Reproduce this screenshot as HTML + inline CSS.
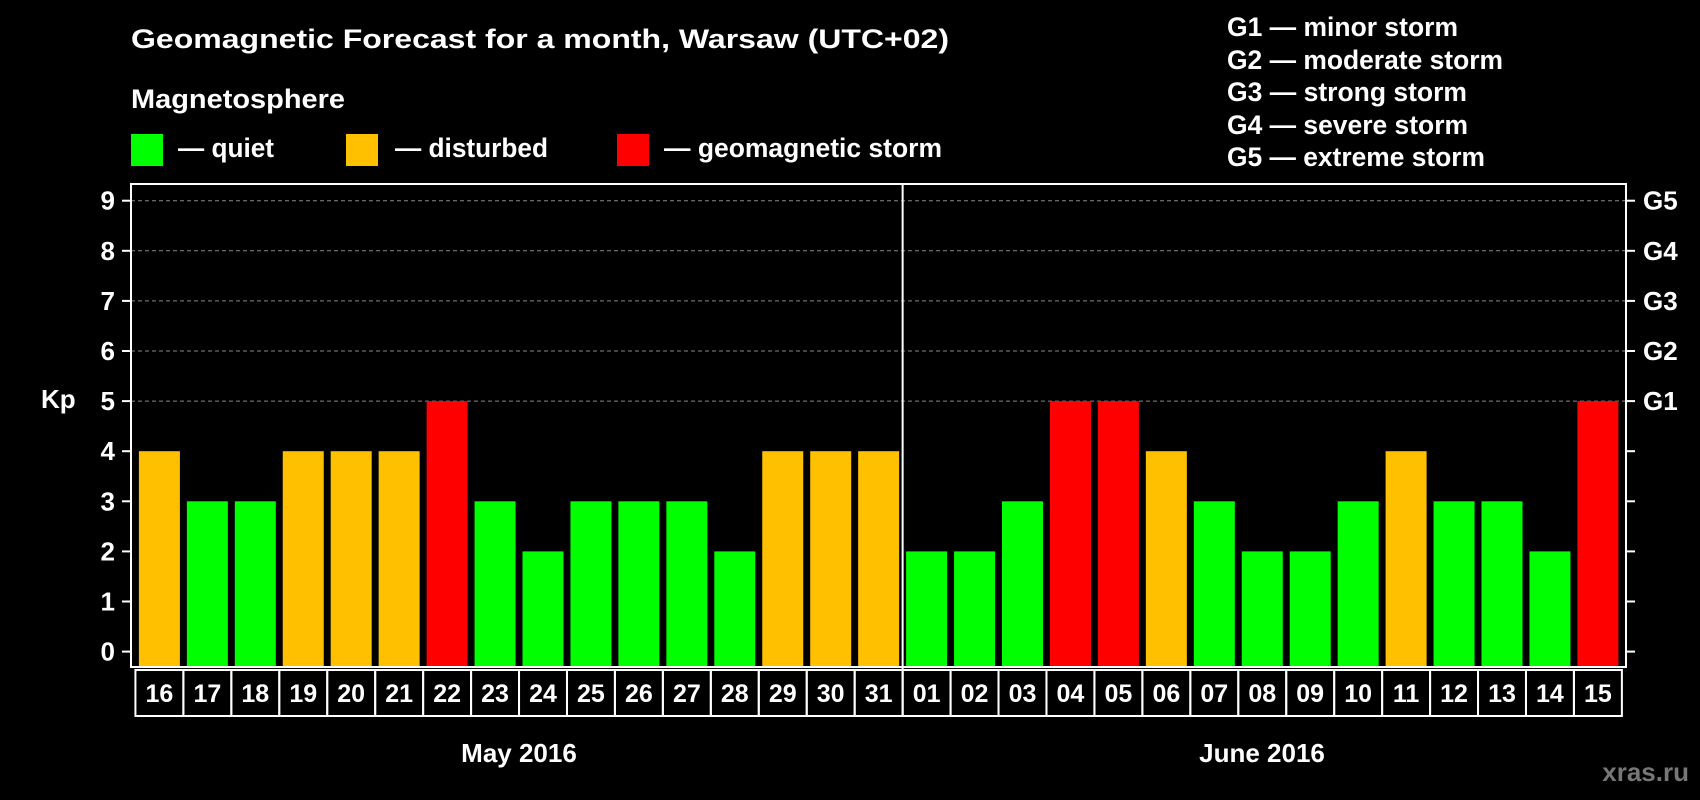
<!DOCTYPE html>
<html><head><meta charset="utf-8"><style>
html,body{margin:0;padding:0;background:#000;}
svg{display:block;font-family:"Liberation Sans",sans-serif;font-weight:bold;}
</style></head><body>
<svg id="chart" width="1700" height="800" viewBox="0 0 1700 800">
<text x="131" y="48" fill="#fff" font-size="27" textLength="818" lengthAdjust="spacingAndGlyphs">Geomagnetic Forecast for a month, Warsaw (UTC+02)</text>
<text x="131" y="108" fill="#fff" font-size="27" textLength="214" lengthAdjust="spacingAndGlyphs">Magnetosphere</text>
<g><rect x="131" y="134" width="32" height="32" fill="#00ff00"/><text x="178" y="157" fill="#fff" font-size="27" textLength="96" lengthAdjust="spacingAndGlyphs">— quiet</text></g>
<g><rect x="346" y="134" width="32" height="32" fill="#ffc000"/><text x="395" y="157" fill="#fff" font-size="27" textLength="153" lengthAdjust="spacingAndGlyphs">— disturbed</text></g>
<g><rect x="617" y="134" width="32" height="32" fill="#ff0000"/><text x="664" y="157" fill="#fff" font-size="27" textLength="278" lengthAdjust="spacingAndGlyphs">— geomagnetic storm</text></g>
<g fill="#fff" font-size="27" lengthAdjust="spacingAndGlyphs">
<text x="1227" y="36" textLength="231" lengthAdjust="spacingAndGlyphs">G1 — minor storm</text>
<text x="1227" y="69" textLength="276" lengthAdjust="spacingAndGlyphs">G2 — moderate storm</text>
<text x="1227" y="101" textLength="240" lengthAdjust="spacingAndGlyphs">G3 — strong storm</text>
<text x="1227" y="134" textLength="241" lengthAdjust="spacingAndGlyphs">G4 — severe storm</text>
<text x="1227" y="166" textLength="258" lengthAdjust="spacingAndGlyphs">G5 — extreme storm</text>
</g>
<text x="41" y="408" fill="#fff" font-size="26">Kp</text>
<text x="519" y="762" fill="#fff" font-size="26" text-anchor="middle">May 2016</text>
<text x="1262" y="762" fill="#fff" font-size="26" text-anchor="middle">June 2016</text>
<text x="1689" y="781" fill="#777" font-size="26" text-anchor="end">xras.ru</text>
<g id="plot"></g>
</svg>
<script>
const days = ["16","17","18","19","20","21","22","23","24","25","26","27","28","29","30","31","01","02","03","04","05","06","07","08","09","10","11","12","13","14","15"];
const kp = [4,3,3,4,4,4,5,3,2,3,3,3,2,4,4,4,2,2,3,5,5,4,3,2,2,3,4,3,3,2,5];
const yTicks = [0,1,2,3,4,5,6,7,8,9];
const gLabels = ["G1","G2","G3","G4","G5"];
const gValues = [5,6,7,8,9];
const monthSplit = 16;

{
const NS = "http://www.w3.org/2000/svg";
const plot = document.getElementById("plot");
const pL = 131, pR = 1626, pT = 184, pB = 667;
const y0 = 651.6, unit = 50.1;
const x0 = 159.4, pitch = 47.95, bw = 41;
const yS = v => y0 - v * unit;
const xS = i => x0 + i * pitch;
const mk = (tag, attrs) => {const e=document.createElementNS(NS,tag);for(const k in attrs)e.setAttribute(k,attrs[k]);plot.appendChild(e);return e;};
const color = v => v>=5?"#ff0000":(v>=4?"#ffc000":"#00ff00");

yTicks.forEach(v=>{
  if(v>=5){const g=mk("line",{x1:pL,x2:pR,y1:yS(v),y2:yS(v),stroke:"#888","stroke-dasharray":"4,3","stroke-width":1});
  
  }
  const t=mk("line",{x1:pL-9,x2:pL,y1:yS(v),y2:yS(v),stroke:"#fff","stroke-width":2});
  
  
  const t2=mk("line",{x1:pR,x2:pR+9,y1:yS(v),y2:yS(v),stroke:"#fff","stroke-width":2});
  
  
  const l=mk("text",{x:pL-16,y:yS(v)+9,fill:"#fff","font-size":26,"text-anchor":"end"});
  l.textContent=v;
  
  
});
gLabels.forEach((g,i)=>{
  const l=mk("text",{x:pR+17,y:yS(gValues[i])+9,fill:"#fff","font-size":26});
  l.textContent=g;
  
  
});
kp.forEach((v,i)=>{
  const r=mk("rect",{x:xS(i)-bw/2,y:yS(v),width:bw,height:pB-yS(v),fill:color(v)});
  
  
  const c=mk("rect",{x:xS(i)-pitch/2,y:670,width:pitch,height:46,fill:"none",stroke:"#fff","stroke-width":2});
  
  
  const t=mk("text",{x:xS(i),y:702,fill:"#fff","font-size":25,"text-anchor":"middle"});
  t.textContent=days[i];
  
  
});
const fr=mk("rect",{x:pL,y:pT,width:pR-pL,height:pB-pT,fill:"none",stroke:"#fff","stroke-width":2});


const sx=(xS(monthSplit-1)+xS(monthSplit))/2;
const d=mk("line",{x1:sx,x2:sx,y1:pT,y2:716,stroke:"#fff","stroke-width":2});


}
</script>
</body></html>
